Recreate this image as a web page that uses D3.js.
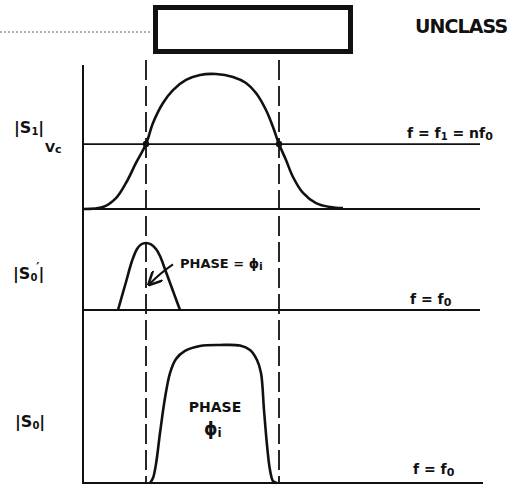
<!DOCTYPE html>
<html>
<head>
<meta charset="utf-8">
<script src="https://cdn.jsdelivr.net/npm/d3@7"></script>
<style>
  html, body { margin: 0; padding: 0; background: #fff; }
  svg text { font-family: "DejaVu Sans", sans-serif; font-weight: bold; fill: #111; }
</style>
</head>
<body>
<svg id="chart" width="508" height="486"></svg>
<script>
// Frequency axis (arbitrary units) shared by the three spectra
const freqDomain = [0, 100];

// |S1| : input spectrum amplitude (normalised to its peak)
const s1Freq = [0, 5, 8.25, 10.75, 13.25, 15.75, 17.5, 20, 22.5, 25.75, 29.25, 33.25, 37.5, 40.75, 43.25, 45.75, 47.5, 49, 50.75, 52.5, 55, 58.25, 61.75, 65];
const s1Amp  = [0, 0.015, 0.081, 0.193, 0.341, 0.481, 0.637, 0.785, 0.881, 0.956, 0.993, 1, 0.978, 0.933, 0.859, 0.733, 0.607, 0.481, 0.363, 0.237, 0.119, 0.044, 0.015, 0.007];

// Clipping level Vc and the two crossing frequencies
const vcLevel = 0.481;
const crossFreq = [15.75, 49];

// |S0'| : narrow output pulse
const s0pFreq = [8.75, 10.75, 12.25, 13.5, 14.5, 15.75, 17, 18.25, 19.25, 20.75, 22.5, 24.25];
const s0pAmp  = [0, 0.418, 0.731, 0.910, 0.978, 1, 0.978, 0.910, 0.806, 0.567, 0.284, 0];

// |S0| : wide output spectrum
const s0Freq = [16.75, 17.5, 18.25, 19.25, 20.5, 21.75, 23.25, 25.5, 29.25, 34.25, 39.25, 41.75, 43.5, 44.5, 45.25, 46, 46.75, 47.5, 48.5];
const s0Amp  = [0, 0.036, 0.138, 0.362, 0.616, 0.797, 0.899, 0.957, 0.993, 1, 0.996, 0.964, 0.891, 0.797, 0.529, 0.275, 0.094, 0.014, 0];

const svg = d3.select("#chart");
const ink = "#111";

const x = d3.scaleLinear().domain(freqDomain).range([83, 483]);
const yTop = d3.scaleLinear().domain([0, 1]).range([209, 74]);
const yMid = d3.scaleLinear().domain([0, 1]).range([310, 243]);
const yBot = d3.scaleLinear().domain([0, 1]).range([483, 345]);

const zip = (fs, as) => fs.map((f, i) => ({ f, a: as[i] }));
const curveLine = y => d3.line().x(d => x(d.f)).y(d => y(d.a)).curve(d3.curveCatmullRom.alpha(0.5));

// header: dotted leader, heavy box and the classification mark
svg.append("line").attr("x1", 0).attr("x2", 152).attr("y1", 32).attr("y2", 32)
  .attr("stroke", "#666").attr("stroke-width", 1).attr("stroke-dasharray", "2,2");
svg.append("rect").attr("x", 155.5).attr("y", 7.5).attr("width", 195).attr("height", 44)
  .attr("fill", "none").attr("stroke", ink).attr("stroke-width", 5);
svg.append("text").attr("x", 415).attr("y", 33).attr("font-size", 19)
  .attr("letter-spacing", -0.9).text("UNCLASS");

// vertical amplitude axis
svg.append("line").attr("x1", 83).attr("x2", 83).attr("y1", 65).attr("y2", 484)
  .attr("stroke", ink).attr("stroke-width", 2);

// horizontal reference lines
const hLines = [
  { y: yTop(vcLevel), x2: 480 },
  { y: yTop(0), x2: 480 },
  { y: yMid(0), x2: 480 },
  { y: yBot(0), x2: 483 }
];
svg.selectAll("line.h").data(hLines).join("line").attr("class", "h")
  .attr("x1", 83).attr("x2", d => d.x2).attr("y1", d => d.y).attr("y2", d => d.y)
  .attr("stroke", ink).attr("stroke-width", 1.8);

// dashed verticals at the crossing frequencies
svg.selectAll("line.v").data(crossFreq).join("line").attr("class", "v")
  .attr("x1", d => x(d)).attr("x2", d => x(d)).attr("y1", 60).attr("y2", 483)
  .attr("stroke", ink).attr("stroke-width", 1.8).attr("stroke-dasharray", "20,6");

// spectra
svg.append("path").attr("d", curveLine(yTop)(zip(s1Freq, s1Amp)))
  .attr("fill", "none").attr("stroke", ink).attr("stroke-width", 2.6);
svg.append("path").attr("d", curveLine(yMid)(zip(s0pFreq, s0pAmp)))
  .attr("fill", "none").attr("stroke", ink).attr("stroke-width", 2.6);
svg.append("path").attr("d", curveLine(yBot)(zip(s0Freq, s0Amp)))
  .attr("fill", "none").attr("stroke", ink).attr("stroke-width", 2.6);

// crossing points
svg.selectAll("circle.cross").data(crossFreq).join("circle").attr("class", "cross")
  .attr("cx", d => x(d)).attr("cy", yTop(vcLevel)).attr("r", 3.2).attr("fill", ink);

// arrow pointing to the phase of the narrow pulse
svg.append("defs").append("marker").attr("id", "head")
  .attr("viewBox", "0 0 10 10").attr("refX", 9).attr("refY", 5)
  .attr("markerWidth", 7).attr("markerHeight", 7).attr("orient", "auto")
  .append("path").attr("d", "M0,0 L10,5 L0,10").attr("fill", "none")
  .attr("stroke", ink).attr("stroke-width", 1.8);
svg.append("path")
  .attr("d", `M${x(22.5)},${yMid(0.68)} Q${x(19.5)},${yMid(0.56)} ${x(16.5)},${yMid(0.38)}`)
  .attr("fill", "none").attr("stroke", ink).attr("stroke-width", 2)
  .attr("marker-end", "url(#head)");

// left labels
const s1 = svg.append("text").attr("x", 14).attr("y", 133).attr("font-size", 16);
s1.append("tspan").text("|S");
s1.append("tspan").attr("font-size", 10).attr("dy", 2).text("1");
s1.append("tspan").attr("dy", -2).text("|");
const vc = svg.append("text").attr("x", 45).attr("y", 152).attr("font-size", 13);
vc.append("tspan").text("V");
vc.append("tspan").attr("font-size", 11).attr("dy", 1).text("c");

const s0p = svg.append("text").attr("x", 13).attr("y", 279).attr("font-size", 16);
s0p.append("tspan").text("|S");
s0p.append("tspan").attr("font-size", 10).attr("dy", 2).text("0");
s0p.append("tspan").attr("font-size", 12).attr("dx", -1).attr("dy", -10).text("′");
s0p.append("tspan").attr("dx", -1).attr("dy", 8).text("|");

const s0 = svg.append("text").attr("x", 15).attr("y", 427).attr("font-size", 16);
s0.append("tspan").text("|S");
s0.append("tspan").attr("font-size", 10).attr("dy", 2).text("0");
s0.append("tspan").attr("dy", -2).text("|");

// right labels
const l1 = svg.append("text").attr("x", 407).attr("y", 138).attr("font-size", 14);
l1.append("tspan").text("f = f");
l1.append("tspan").attr("font-size", 10).attr("dy", 2).text("1");
l1.append("tspan").attr("dy", -2).text(" = nf");
l1.append("tspan").attr("font-size", 11).attr("dy", 2).text("0");

const l2 = svg.append("text").attr("x", 410).attr("y", 304).attr("font-size", 14);
l2.append("tspan").text("f = f");
l2.append("tspan").attr("font-size", 11).attr("dy", 2).text("0");

const l3 = svg.append("text").attr("x", 413).attr("y", 474).attr("font-size", 14);
l3.append("tspan").text("f = f");
l3.append("tspan").attr("font-size", 11).attr("dy", 2).text("0");

// phase annotations
const p1 = svg.append("text").attr("x", 180).attr("y", 268).attr("font-size", 13);
p1.append("tspan").text("PHASE = ϕ");
p1.append("tspan").attr("font-size", 11).attr("dy", 2).text("i");

svg.append("text").attr("x", x(33)).attr("y", 412).attr("font-size", 14)
  .attr("text-anchor", "middle").text("PHASE");
const p2 = svg.append("text").attr("x", 204).attr("y", 435).attr("font-size", 17);
p2.append("tspan").text("ϕ");
p2.append("tspan").attr("font-size", 12).attr("dy", 2).text("i");
</script>
</body>
</html>
